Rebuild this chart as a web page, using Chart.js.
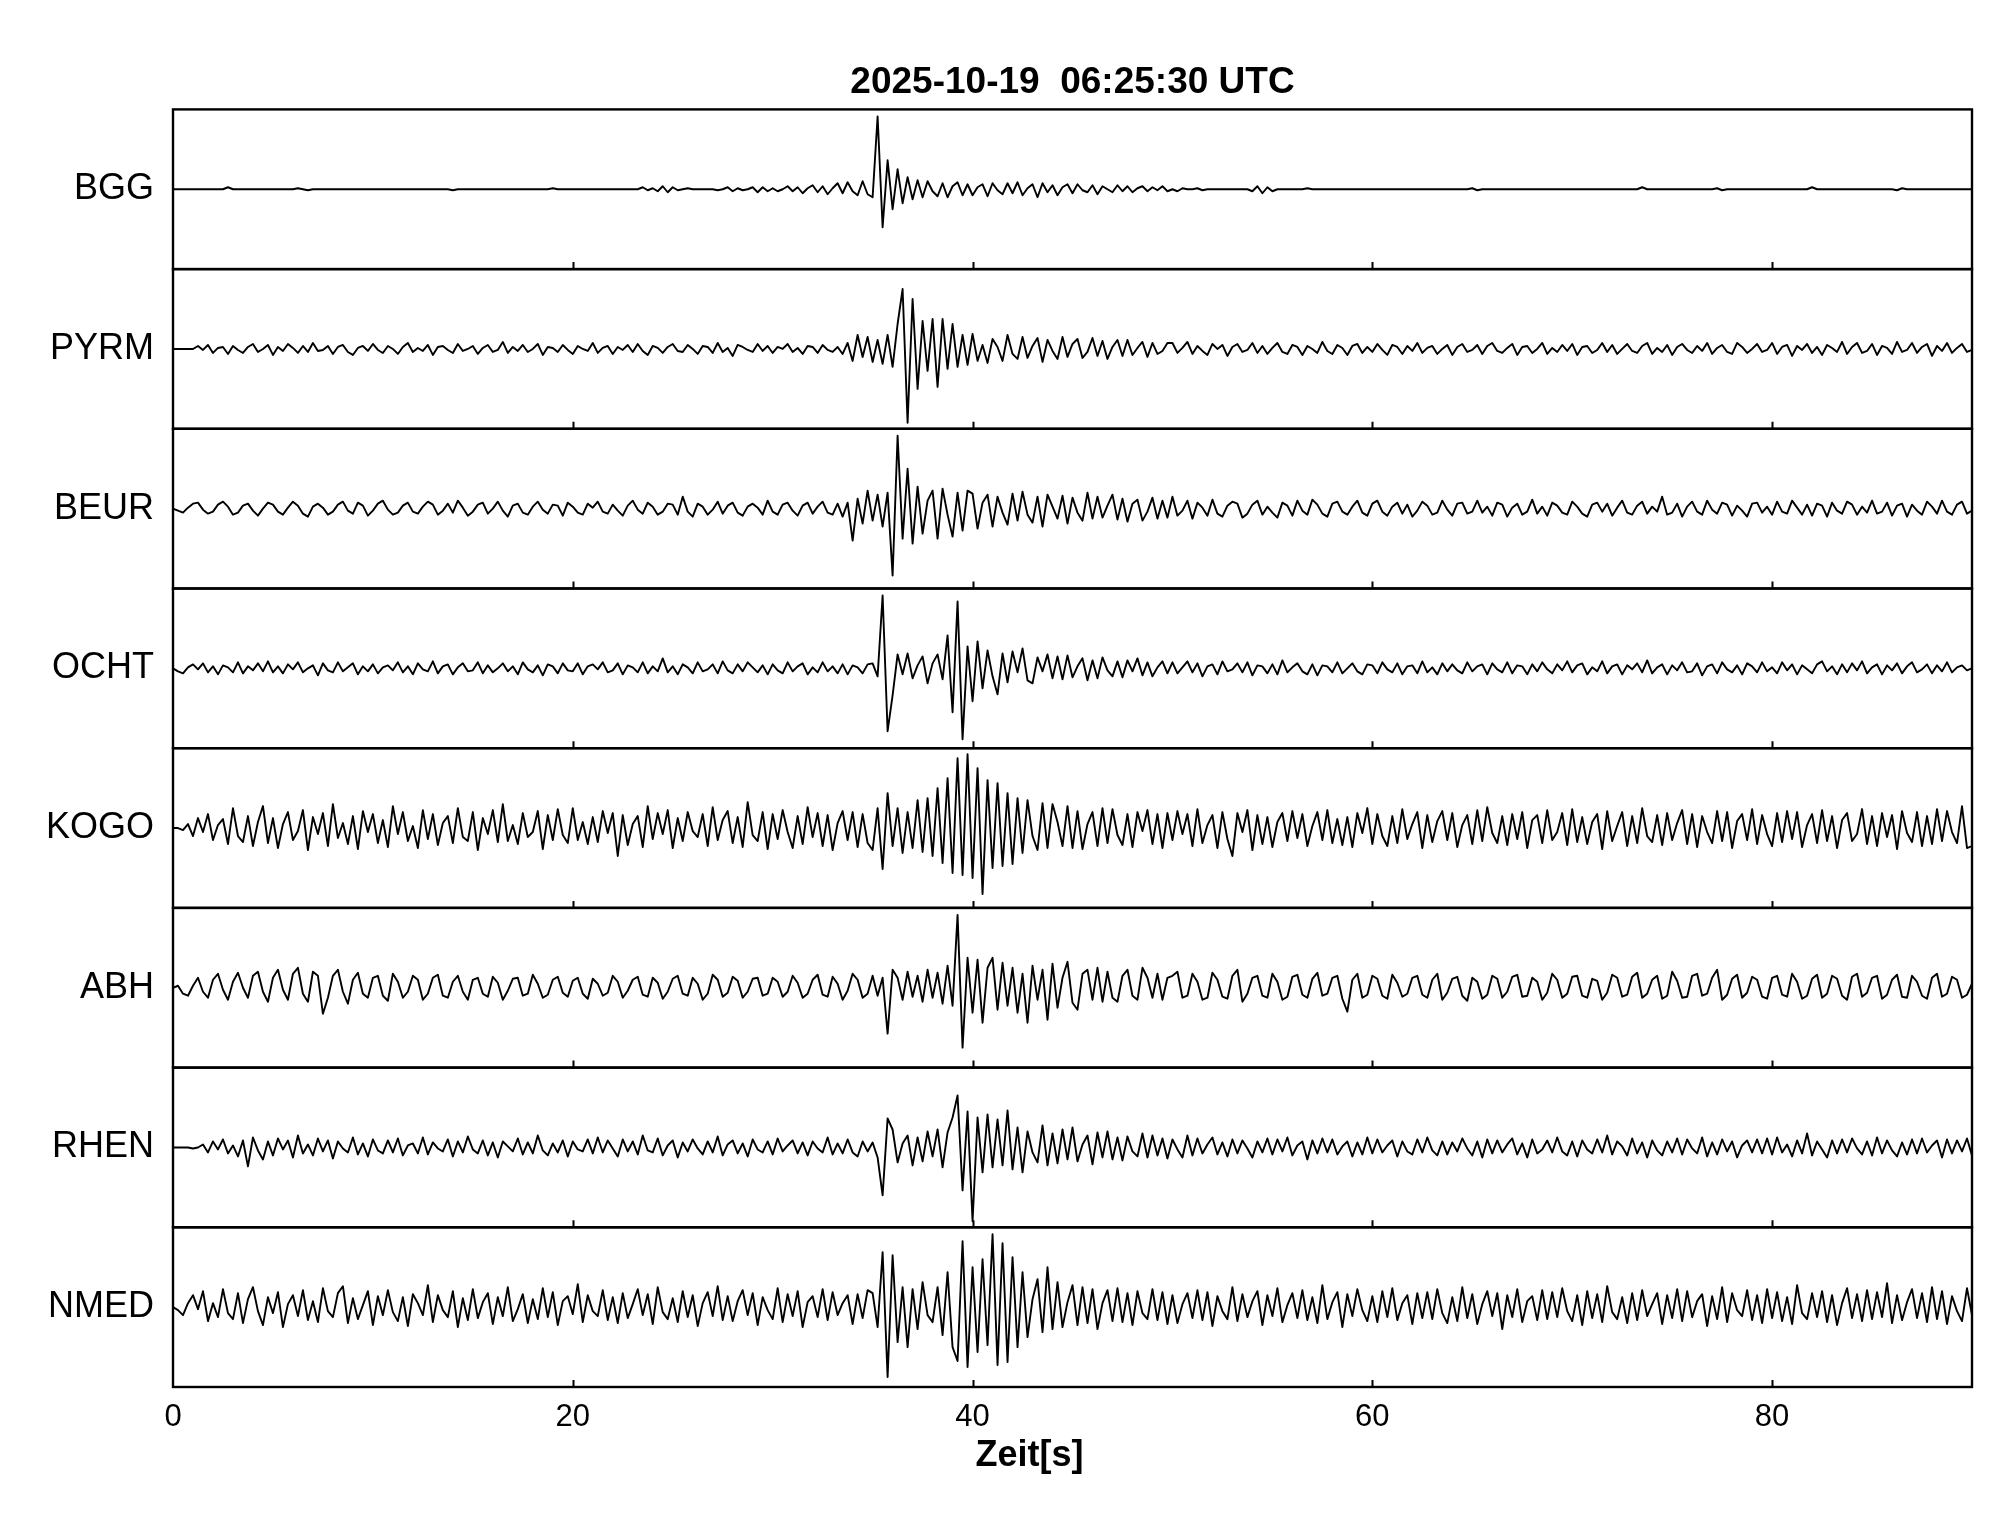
<!DOCTYPE html>
<html>
<head>
<meta charset="utf-8">
<script src="https://cdn.jsdelivr.net/npm/chart.js@4.4.1/dist/chart.umd.min.js"></script>
<style>
html,body{margin:0;padding:0;background:#fff;}
#wrap{width:2005px;height:1522px;position:relative;background:#fff;}
</style>
</head>
<body>
<div id="wrap"><canvas id="c"></canvas></div>
<script>
// ---------- texts ----------
const TITLE = '2025-10-19  06:25:30 UTC';
const X_TITLE = 'Zeit[s]';
const STATIONS = ['BGG', 'PYRM', 'BEUR', 'OCHT', 'KOGO', 'ABH', 'RHEN', 'NMED'];
const X_TICKS = [0, 20, 40, 60, 80];
const X_MIN = 0, X_MAX = 90;
// sampling of the traces (seconds)
const START_TIME = 0, SAMPLE_INTERVAL = 0.25;
// each panel shows amplitudes from -AMP_RANGE to +AMP_RANGE (normalised units)
const AMP_RANGE = 80;

// ---------- traces (normalised amplitude, one value every 0.25 s) ----------
const BGG = [
0,0,0,0,0,0,0,0,0,0, 0,2,0,0,0,0,0,0,0,0, 0,0,0,0,0,1,0,-1,0,0, 0,0,0,0,0,0,0,0,0,0,
0,0,0,0,0,0,0,0,0,0, 0,0,0,0,0,0,-1,0,0,0, 0,0,0,0,0,0,0,0,0,0, 0,0,0,0,0,0,1,0,0,0,
0,0,0,0,0,0,0,0,0,0, 0,0,0,0,2,-1,1,-2,3,-3, 2,-1,0,1,0,0,0,0,0,-1, 0,2,-2,1,-1,0,2,-3,2,-2,
1,-2,0,3,-2,2,-4,1,4,-3, 3,-5,1,6,-4,7,-2,-6,8,-5, -8,73,-38,29,-20,20,-14,12,-10,9, -8,8,-2,-7,6,-8,3,7,-6,5,
-6,2,5,-7,6,-1,-5,6,-4,7, -6,1,5,-8,6,-3,4,-6,2,5, -4,5,-1,-3,4,-5,3,0,-3,4, -2,3,-3,1,3,-2,2,-1,3,-2,
0,-2,1,0,0,1,-1,0,0,0, 0,0,0,0,0,0,-2,3,-4,2, -2,0,0,0,0,0,0,1,0,0, 0,0,0,0,0,0,0,0,0,0,
0,0,0,0,0,0,0,0,0,0, 0,0,0,0,0,0,0,0,0,0, 1,-1,0,0,0,0,0,0,0,0, 0,0,0,0,0,0,0,0,0,0,
0,0,0,0,0,0,0,0,0,0, 0,0,0,0,2,0,0,0,0,0, 0,0,0,0,0,0,0,0,0,1, -1,0,0,0,0,0,0,0,0,0,
0,0,0,0,0,0,0,0,2,0, 0,0,0,0,0,0,0,0,0,0, 0,0,0,0,0,-1,1,0,0,0, 0,0,0,0,0,0,0,0,0,0,
0];

const PYRM = [
0,0,0,0,0,3,-1,4,-4,1, 2,-5,3,-1,-4,2,5,-3,0,4, -6,2,-2,5,1,-4,3,-3,6,-2, -1,3,-5,2,4,-3,-6,1,3,-2,
5,-1,-4,3,0,-5,2,6,-3,1, -2,4,-6,2,3,-1,-4,5,-2,0, 3,-5,1,4,-3,-1,7,-4,2,-2, 4,-3,0,5,-6,2,1,-3,4,-1,
-5,3,0,-2,6,-4,1,3,-5,2, -1,4,-3,5,-2,-6,3,1,-4,2, 5,-2,-3,4,0,-5,3,2,-4,6, -3,1,-7,4,2,-1,-3,5,-2,3,
-4,2,0,5,-3,1,-5,3,2,-4, 4,-1,-3,2,-5,6,-12,14,-8,12, -13,9,-15,14,-18,25,60,-74,50,-40, 28,-22,30,-38,30,-20,25,-18,14,-16,
15,-12,4,-14,10,2,-12,14,-5,-10, 12,-9,3,11,-13,9,-2,-10,12,-8, 5,10,-9,-3,11,-7,8,-10,2,9, -7,9,-6,1,7,-8,6,-5,-2,6,
6,-4,1,7,-5,3,-2,-6,5,0, 4,-7,2,5,-3,-1,6,-4,3,-5, 1,6,-3,-5,4,2,-6,3,0,-4, 7,-2,-5,4,1,-6,3,5,-4,2,
-3,5,-1,-6,4,2,-5,3,-2,6, -4,1,3,-5,0,4,-6,2,5,-3, -1,4,-5,3,6,-2,-4,1,5,-6, 2,3,-4,0,6,-5,1,-3,4,-2,
5,-6,2,3,-4,-1,6,-3,4,-5, 0,5,-2,-4,3,6,-5,1,-3,4, -6,2,5,-1,-4,3,-2,6,-5,1, 4,-3,-5,6,2,-4,0,5,-3,-1,
6,-5,2,4,-7,3,-1,5,-4,2, -6,4,1,-3,7,-5,2,6,-4,-2, 5,-6,3,1,-5,7,-3,-1,6,-4, 2,5,-7,3,-2,6,-4,1,5,-3,
-1];

const BEUR = [
0,-2,-4,1,5,6,-1,-5,-3,4, 7,2,-6,-4,3,5,-2,-7,0,6, 4,-3,-6,1,7,3,-5,-8,2,5, 1,-6,-3,4,7,-2,-5,6,3,-7,
-2,5,8,-1,-6,-4,3,6,-3,-5, 2,7,4,-6,-2,5,-4,8,1,-7, -3,4,6,-5,0,7,-2,-8,3,5, -4,-6,2,7,-1,-5,4,3,-7,6,
2,-4,-6,5,1,7,-3,-5,4,-2, -7,3,8,-1,-5,6,2,-6,-3,5, 4,-6,12,-3,-8,5,2,-6,-1,7, -5,3,6,-4,-7,2,5,1,-6,8,
-3,-6,4,6,-2,-7,3,6,-5,2, 7,-4,-6,5,-8,6,-32,10,-15,18, -12,14,-18,16,-67,73,-30,40,-35,22, -25,8,18,-30,20,-6,-28,16,-22,18,
15,-20,6,14,-18,12,-4,-16,15,-12, 17,-6,-14,12,-18,14,2,-10,13,-15, 11,-4,-12,16,-10,12,-9,3,14,-11, 10,-13,5,9,-12,-3,11,-10,8,-9,
12,-7,-2,8,-10,6,1,-7,9,-5, -8,3,7,5,-9,-5,4,8,-6,2, -4,-9,6,3,-7,8,-2,-6,9,4, -5,-8,5,7,-3,-6,2,8,-4,-7,
5,8,-3,-7,2,6,-5,4,-8,-2, 7,3,-6,-4,8,-1,-7,5,6,-5, -3,8,-4,2,-7,6,4,-8,1,5, -6,-3,9,-5,2,-7,6,3,-4,-6,
7,2,-5,-8,4,6,-3,5,-7,1, 8,-4,-6,3,7,-5,2,-3,12,-6, -4,5,-8,2,7,-3,-6,8,-1,-5, 6,4,-7,3,-2,-8,5,6,-4,2,
-6,7,-3,-5,8,1,-6,4,-7,5, 3,-8,6,-2,-5,7,4,-6,2,-4, 8,-5,-3,6,-7,3,5,-8,4,-2, -6,7,2,-5,8,-3,-6,4,7,-5,
-2];

const OCHT = [
0,-3,-5,1,4,-1,5,-4,2,-6, 3,1,-4,6,-5,2,-2,5,-3,7, -4,2,-5,4,-1,6,-4,0,3,-7, 5,-2,-4,6,-3,1,5,-6,2,-3,
4,-5,1,3,-2,6,-4,2,-6,5, -1,-3,7,-5,2,4,-6,1,5,-3, -2,6,-5,3,-4,0,5,-3,2,-6, 6,-1,-4,3,-7,4,2,-5,5,-2,
-3,5,-6,2,4,-1,6,-4,-2,5, -6,3,1,-4,6,-5,2,-3,10,-4, 2,-6,4,1,-5,6,-3,-1,4,-5, 7,-2,-5,4,-3,6,1,-4,3,-6,
4,-2,-5,6,-3,2,5,-6,1,-4, 6,-3,2,-5,4,-6,3,1,-5,4, 5,-8,73,-63,-27,14,-6,15,-10,3, 12,-15,5,14,-11,33,-44,67,-71,22,
-33,27,-20,18,-8,-26,15,-14,17,-4, 20,-12,-15,11,-3,14,-10,12,-11,13, -9,2,10,-12,8,-10,11,-2,-8,7, -9,8,-3,10,-7,6,-8,1,7,-5,
6,-5,1,7,-4,5,-8,2,4,-6, 7,-3,-1,5,-4,6,-7,3,2,-5, 4,-6,8,-4,1,5,-3,-6,4,-7, 3,2,-4,6,-5,0,5,-3,-6,4,
3,-5,6,-1,-4,5,-6,2,3,-5, 7,-4,1,-6,5,-3,4,-2,-5,6, -3,2,4,-6,5,-1,-4,6,-5,3, 2,-6,4,-3,6,-1,-5,4,-2,7,
-4,3,5,-6,1,-3,7,-5,2,4, -6,3,-1,5,-4,8,-5,1,4,-6, 3,-2,6,-4,-3,5,-7,2,4,-5, 6,-1,-4,3,-6,5,2,-4,6,-3,
1,-5,6,-2,4,-6,3,-1,-5,4, 7,-3,2,-6,4,-4,5,-2,7,-5, 1,4,-6,3,-2,5,-5,2,6,-4, -1,4,-5,3,-3,6,-4,1,3,-2,
0];

const KOGO = [
0,0,-2,4,-8,10,-4,14,-12,3, 9,-16,20,-8,-14,12,-18,6,22,-15, 10,-20,4,16,-12,-3,18,-22,11,-6, 15,-18,24,-10,5,-16,12,-21,17,-4,
14,-15,8,-19,22,-6,16,-13,2,-20, 18,-11,14,-17,5,12,-15,20,-9,-13, 16,-22,10,-6,18,-14,24,-13,3,-16, 15,-9,-4,17,-21,13,-12,19,-7,-15,
20,-12,6,-16,11,-14,17,-5,15,-28, 13,-17,4,12,-19,22,-11,15,-6,18, -20,10,-13,16,-3,-9,14,-18,21,-12, 8,17,-15,11,-19,26,-7,-13,16,-21,
14,-11,18,-4,-20,12,-16,21,-9,15, -18,13,-22,5,17,-12,16,-19,14,-15, -22,20,-41,35,-18,20,-25,16,-20,28, -24,30,-28,40,-35,50,-45,70,-47,74,
-50,60,-66,48,-40,45,-38,35,-36,30, -25,28,-8,-22,25,-20,24,6,-18,22, -20,17,-21,4,16,-18,20,-15,19,-7, -17,14,-19,16,-3,18,-16,14,-20,15,
-12,17,-6,14,-18,19,-15,3,13,-20, 16,-11,-28,15,-4,18,-22,13,-16,11, -19,6,15,-13,17,-10,14,-18,2,16, -12,18,-15,9,-17,11,-19,15,-5,20,
-16,14,-8,-18,12,-15,19,-11,4,16, -20,13,-14,7,17,-12,15,-19,3,13, -16,18,-13,21,-5,-15,12,-17,14,-11, 16,-20,8,13,-15,18,-12,-4,15,-17,
19,-14,11,-16,6,14,-21,17,-13,2, 16,-18,12,-15,20,-8,-14,13,-17,15, -12,5,18,-16,14,-19,12,-4,-15,17, -13,16,-20,7,14,-12,19,-16,13,-6,
-18,15,-14,17,-11,16,-19,3,14,-15, 18,-13,12,-20,8,15,-13,-6,19,-16, 12,-18,15,-9,13,-21,17,-5,-14,16, -18,12,-16,19,-13,17,-4,-15,22,-20,
-18];

const ABH = [
0,2,-6,-8,2,10,-4,-10,8,14, -2,-12,6,15,0,-10,12,16,-4,-14, 10,18,-2,-12,14,20,-6,-14,16,12, -26,-10,12,18,-4,-16,8,15,-6,-10,
10,12,-8,-13,14,6,-10,-4,12,8, -12,-6,10,13,-8,-10,6,12,-4,-12, 8,10,-6,-9,11,5,-12,-3,9,10, -8,-6,13,4,-10,-7,8,11,-5,-9,
7,10,-6,-11,9,4,-8,-5,12,6, -10,-3,8,11,-7,-9,10,5,-11,-4, 9,12,-6,-8,10,4,-12,-6,13,8, -9,-5,11,7,-10,-4,9,10,-8,-6,
10,6,-9,-4,12,5,-10,-6,8,13, -7,-9,11,4,-12,-3,14,8,-10,-6, 12,-8,10,-46,18,10,-12,16,-9,12, -14,18,-10,15,-16,22,-18,73,-60,30,
-25,28,-35,20,30,-22,25,-18,20,-25, 14,-35,22,-12,18,-32,24,-20,10,26, -15,-22,14,18,-12,20,-14,16,-10,-14, 12,18,-8,-12,20,10,-10,14,-12,10,
12,16,-10,-8,14,6,-12,-10,15,8, -9,-11,12,18,-14,-6,10,12,-8,-10, 14,6,-12,-9,11,13,-7,-10,9,15, -8,-6,10,12,-11,-24,8,14,-10,-7,
12,9,-8,-11,13,5,-9,-6,10,12, -7,-10,8,14,-12,-5,9,11,-8,-13, 10,6,-11,-7,12,9,-10,-4,11,13, -9,-8,10,6,-12,-5,14,8,-10,-6,
11,12,-8,-10,9,7,-12,-5,13,10, -9,-7,11,15,-10,-6,8,12,-11,-8, 16,7,-10,-9,12,14,-8,-6,10,18, -12,-7,9,13,-10,-5,11,8,-9,-11,
10,12,-7,-9,14,6,-11,-8,9,13, -10,-6,12,9,-8,-12,11,14,-9,-5, 10,12,-11,-7,8,13,-9,-10,12,6, -8,-11,10,14,-9,-6,11,8,-10,-7,
4];

const RHEN = [
0,0,0,0,-1,0,3,-5,6,-2, 8,-6,2,-9,7,-19,10,-3,-12,6, -8,9,-2,7,-10,12,-6,3,-8,9, -4,7,-11,6,-1,-5,10,-7,4,-9,
8,-3,-6,7,-5,9,-8,2,4,-6, 10,-7,5,-1,-4,8,-9,6,-5,11, -2,-6,7,-8,5,-10,6,1,-4,9, -7,5,-6,12,-3,-8,4,-5,7,-9,
6,-2,-4,8,-6,10,-5,7,-1,-9, 8,-4,6,-7,12,-3,-5,9,-8,2, 7,-10,5,-4,8,-1,-7,6,-5,11, -8,3,7,-6,4,-9,8,-2,-5,6,
-7,9,-4,2,7,-6,5,-8,6,-1, -5,10,-7,4,-6,8,-5,-9,6,-4, 5,-10,-48,29,18,-15,4,12,-18,10, -14,16,-9,18,-20,15,30,52,-43,36,
-74,30,-25,33,-20,28,-18,37,-22,20, -25,16,-5,-15,22,-18,14,-16,18,-12, 20,-14,3,12,-17,15,-10,16,-12,10, -13,11,-4,-9,14,-10,12,-8,9,-11,
8,-2,-10,12,-8,9,-6,3,10,-7, 5,-9,8,-6,7,-1,-10,6,-5,9, -7,8,-4,10,-8,2,6,-12,7,-6, 9,-5,8,-7,1,6,-9,5,-7,10,
-6,8,-5,2,7,-9,6,-4,-7,8, -5,10,-3,-8,6,-7,5,-4,9,-1, -8,6,-10,8,-6,7,-5,3,9,-7, 4,-10,8,-6,-2,7,-5,10,-4,-8,
6,-9,7,-2,-6,8,-5,12,-7,6, 1,-8,9,-6,5,-10,7,-3,-8,6, -5,9,-7,8,-1,-6,10,-9,5,-7, 8,-4,6,-10,2,7,-5,8,-6,9,
-7,10,-5,3,-9,7,-6,14,-8,6, -2,-10,7,-6,8,-5,9,-1,-7,6, -8,10,-6,7,-3,-9,5,-7,8,-6, 9,-5,2,7,-10,8,-6,7,-4,9,
-8];

const NMED = [
0,-3,-8,4,12,-2,16,-14,4,-10, 18,-6,-12,14,-16,8,20,-4,-18,10, -6,15,-20,3,12,-9,17,-13,6,-15, 19,-4,-10,14,21,-16,9,-12,2,16,
-18,11,-8,17,-5,-14,10,-19,13,4, -8,22,-15,12,-3,-10,16,-20,9,-13, 18,-11,5,14,-17,10,-9,20,-14,-2, 13,-16,8,-12,19,-10,15,-18,6,11,
-7,23,-15,12,-4,-9,17,-13,10,-16, 14,-11,3,18,-8,13,-17,20,-5,-12, 9,-15,16,-10,12,-19,4,15,-9,21, -13,11,-14,6,17,-8,14,-18,10,-3,
-12,19,-15,13,-9,16,-20,5,11,-10, 18,-13,15,-8,4,12,-17,13,-11,17, 14,-20,55,-70,52,-35,20,-40,18,-22, 25,-8,-15,20,-28,35,-40,-54,66,-60,
40,-45,48,-38,73,-58,64,-55,50,-40, 35,-30,8,28,-25,40,-22,25,-20,5, 22,-18,20,-16,18,-22,4,17,-14,19, -15,14,-18,16,-6,-12,18,-13,15,-17,
12,-16,3,14,-11,17,-13,15,-19,11, -4,-12,20,-14,13,-10,6,16,-18,12, -9,19,-15,2,14,-11,17,-13,10,-16, 22,-12,5,15,-20,13,-9,18,-3,-14,
11,-15,16,-10,19,-13,4,12,-17,14, -11,15,-12,18,-6,-16,10,-14,20,-11, 13,-17,3,16,-9,14,-22,12,-10,18, -15,6,11,-13,17,-12,15,-10,19,-4,
-14,12,-18,16,-11,13,-15,21,-5,-12, 10,-16,14,-13,17,-9,3,14,-17,12, -11,18,-14,16,-10,6,13,-19,11,-12, 20,-15,14,-3,-9,17,-13,12,-16,18,
-11,15,-14,10,-17,22,-6,-12,14,-10, 16,-15,12,-18,4,19,-11,13,-14,17, -12,15,-10,24,-16,12,-13,5,18,-11, 14,-15,20,-12,16,-17,11,-4,-14,19,
-8];

const TRACES = [BGG, PYRM, BEUR, OCHT, KOGO, ABH, RHEN, NMED];

// ---------- styling ----------
const FONT = "'Liberation Sans', Arial, Helvetica, sans-serif";
const INK = '#000';

// ---------- scales ----------
const scales = {
  x: {
    type: 'linear', position: 'bottom', min: X_MIN, max: X_MAX,
    afterBuildTicks: ax => { ax.ticks = X_TICKS.map(v => ({ value: v })); },
    afterFit: ax => { ax.height = 135; },
    grid: { display: false }, border: { display: false },
    ticks: { font: { family: FONT, size: 31 }, color: INK, padding: 4, maxRotation: 0, autoSkip: false }
  }
};
// stacked panels: the last defined left axis is placed on top
for (let i = STATIONS.length - 1; i >= 0; i--) {
  scales['y' + i] = {
    type: 'linear', position: 'left', stack: 'panels', stackWeight: 1,
    min: -AMP_RANGE, max: AMP_RANGE,
    afterBuildTicks: ax => { ax.ticks = [{ value: 0 }]; },
    afterFit: ax => { ax.width = 173; },
    grid: { display: false }, border: { display: false },
    ticks: { font: { family: FONT, size: 36 }, color: INK, padding: 11, callback: () => STATIONS[i] }
  };
}

const datasets = TRACES.map((tr, i) => ({
  label: STATIONS[i],
  data: tr.map((v, k) => ({ x: START_TIME + k * SAMPLE_INTERVAL, y: v })),
  xAxisID: 'x', yAxisID: 'y' + i,
  borderColor: INK, borderWidth: 1.9, pointRadius: 0, tension: 0,
  borderJoinStyle: 'round', fill: false
}));

// panel frames, inner tick marks and the x-axis title
const framePlugin = {
  id: 'frames',
  afterDatasetsDraw(chart) {
    const { ctx, chartArea, scales: sc } = chart;
    const xs = sc.x;
    ctx.save();
    ctx.strokeStyle = INK;
    ctx.lineWidth = 2.4;
    STATIONS.forEach((s, i) => {
      const ys = sc['y' + i];
      ctx.strokeRect(chartArea.left, ys.top, chartArea.right - chartArea.left, ys.bottom - ys.top);
    });
    ctx.beginPath();
    ctx.lineWidth = 2;
    STATIONS.forEach((s, i) => {
      const ys = sc['y' + i];
      X_TICKS.forEach(v => {
        if (v === X_MIN) return;
        const px = Math.round(xs.getPixelForValue(v)) + 0.5;
        ctx.moveTo(px, ys.bottom);
        ctx.lineTo(px, ys.bottom - 7);
      });
    });
    ctx.stroke();
    ctx.fillStyle = INK;
    ctx.font = 'bold 36px ' + FONT;
    ctx.textAlign = 'center';
    ctx.textBaseline = 'middle';
    ctx.fillText(X_TITLE, (chartArea.left + chartArea.right) / 2 - 43, chartArea.bottom + 69);
    ctx.restore();
  }
};

new Chart(document.getElementById('c'), {
  type: 'line',
  data: { datasets },
  options: {
    animation: false,
    responsive: true,
    maintainAspectRatio: false,
    events: [],
    normalized: true,
    layout: { padding: { left: 0, right: 33, top: 0, bottom: 0 } },
    plugins: {
      legend: { display: false },
      tooltip: { enabled: false },
      title: {
        display: true, text: TITLE, fullSize: false, color: INK,
        font: { family: FONT, size: 37, weight: 'bold' },
        padding: { top: 61, bottom: 4 }
      }
    },
    scales
  },
  plugins: [framePlugin]
});
</script>
</body>
</html>
